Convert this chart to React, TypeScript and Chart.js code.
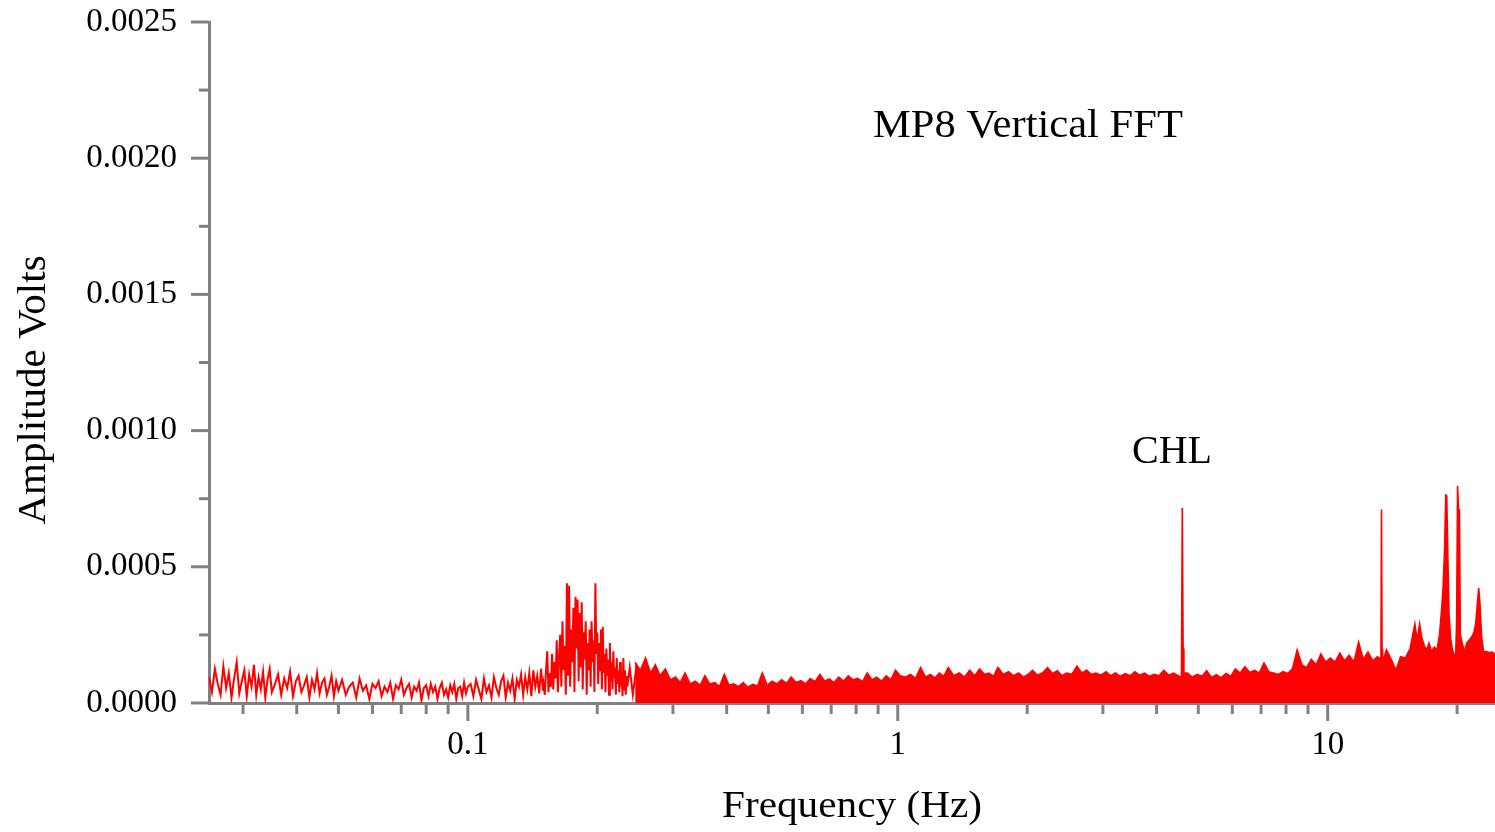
import React, { useEffect, useRef } from "react";
import { Chart, registerables } from "chart.js";

Chart.register(...registerables);

// ---------- data (frequency in Hz, amplitude in microvolts) ----------

// low-frequency trace (thin noisy line)
const lowFreqHz: number[] = [
  0.025, 0.0254, 0.0258, 0.0262, 0.0266, 0.027, 0.0274, 0.0278, 0.0282, 0.0286, 0.029, 0.0294, 0.0298, 0.0302, 0.0306, 0.031, 0.0314, 0.0318, 0.0322, 0.0326, 0.033, 0.0334, 0.0338, 0.0342, 0.0346, 0.035,
  0.0356, 0.0362, 0.0368, 0.0374, 0.038, 0.0386, 0.0392, 0.0398, 0.0404, 0.041, 0.0416, 0.0422, 0.0428, 0.0434, 0.044, 0.0446, 0.0452, 0.0458, 0.0464, 0.047, 0.0476, 0.0482, 0.0488, 0.0494, 0.05,
  0.051, 0.052, 0.053, 0.054, 0.055, 0.056, 0.057, 0.058, 0.059, 0.06,
  0.061, 0.062, 0.063, 0.064, 0.065, 0.066, 0.067, 0.068, 0.069, 0.07,
  0.071, 0.072, 0.073, 0.074, 0.075, 0.076, 0.077, 0.078, 0.079, 0.08,
  0.081, 0.082, 0.083, 0.084, 0.085, 0.086, 0.087, 0.088, 0.089, 0.09,
  0.091, 0.092, 0.093, 0.094, 0.095, 0.096, 0.097, 0.098, 0.099, 0.1,
  0.1015, 0.103, 0.1045, 0.106, 0.1075, 0.109, 0.1105, 0.112, 0.1135, 0.115,
  0.1165, 0.118, 0.1195, 0.121, 0.1225, 0.124, 0.1255, 0.127, 0.1285, 0.13,
  0.1315, 0.133, 0.1345, 0.136, 0.1375, 0.139, 0.1405, 0.142, 0.1435, 0.145,
  0.1465, 0.148, 0.1495,
  0.15, 0.151, 0.152, 0.153, 0.154, 0.155, 0.156, 0.157, 0.158, 0.159,
  0.16, 0.161, 0.162, 0.163, 0.164, 0.165, 0.166, 0.167, 0.168, 0.169,
  0.17, 0.171, 0.172, 0.173, 0.174, 0.175, 0.176, 0.177, 0.178, 0.179,
  0.18, 0.181, 0.182, 0.183, 0.184, 0.185, 0.186, 0.187, 0.188, 0.189,
  0.19, 0.191, 0.192, 0.193, 0.194, 0.195, 0.196, 0.197, 0.198, 0.199,
  0.2, 0.201, 0.202, 0.203, 0.204, 0.205, 0.206, 0.207, 0.208, 0.209,
  0.21, 0.211, 0.212, 0.213, 0.214, 0.215, 0.216, 0.217, 0.218, 0.219,
  0.22, 0.221, 0.222, 0.223, 0.224, 0.225, 0.226, 0.227, 0.228, 0.229,
  0.23, 0.231, 0.232, 0.233, 0.234, 0.235,
  0.238, 0.242, 0.246, 0.25,
];
const lowAmpUV: number[] = [
  95, 40, 125, 70, 30, 135, 55, 110, 20, 90, 150, 35, 80, 120, 25, 105, 60, 140, 30, 95, 50, 115, 20, 85, 125, 40,
  70, 105, 30, 90, 55, 115, 25, 80, 100, 40, 65, 95, 20, 85, 50, 110, 35, 75, 90, 30, 60, 100, 25, 80, 45,
  85, 30, 60, 75, 20, 90, 45, 65, 15, 70,
  55, 80, 25, 60, 40, 75, 15, 65, 50, 85,
  30, 55, 70, 20, 60, 45, 75, 10, 55, 65,
  25, 70, 40, 60, 15, 55, 75, 30, 50, 20,
  65, 40, 70, 15, 55, 60, 25, 75, 35, 60,
  70, 25, 85, 50, 15, 90, 40, 65, 20, 95,
  55, 30, 80, 100, 20, 75, 45, 90, 15, 85,
  60, 105, 30, 95, 50, 110, 25, 120, 60, 100,
  35, 125, 45,
  70, 30, 120, 190, 40, 110, 60, 180, 50, 150,
  90, 230, 40, 170, 250, 60, 300, 120, 210, 30,
  440, 100, 430, 60, 270, 150, 350, 40, 390, 200,
  380, 80, 330, 130, 370, 50, 260, 160, 300, 30,
  220, 120, 270, 60, 300, 150, 230, 40, 440, 180,
  260, 70, 220, 120, 270, 50, 280, 110, 180, 40,
  200, 100, 160, 30, 220, 80, 150, 50, 190, 90,
  130, 30, 165, 70, 120, 40, 150, 60, 110, 25,
  165, 50, 120, 30, 100, 60,
  130, 30, 120, 60,
];

// dense band (drawn filled down to zero)
const bandFreqHz: number[] = [
  0.245, 0.252, 0.259, 0.266, 0.273, 0.28, 0.288, 0.296,
  0.304, 0.312, 0.32, 0.329, 0.338, 0.347, 0.356, 0.365, 0.375, 0.385, 0.395, 0.405, 0.415, 0.426, 0.437, 0.448, 0.46, 0.472, 0.484, 0.497,
  0.51, 0.523, 0.537, 0.551, 0.565, 0.58, 0.595, 0.61, 0.626, 0.642, 0.659, 0.676, 0.693, 0.711, 0.729, 0.748, 0.767, 0.787, 0.807, 0.828, 0.849, 0.871, 0.893, 0.916, 0.94, 0.964, 0.988,
  1.013, 1.04, 1.07, 1.1, 1.13, 1.16, 1.19, 1.22, 1.25, 1.28, 1.31, 1.35, 1.39, 1.43, 1.47, 1.51, 1.55, 1.59, 1.63, 1.67,
  1.71, 1.76, 1.81, 1.86, 1.91, 1.96, 2.01, 2.06, 2.11, 2.17, 2.23, 2.29, 2.35, 2.41, 2.47, 2.54, 2.61, 2.68, 2.75, 2.82,
  2.89, 2.97, 3.05, 3.13, 3.21, 3.29, 3.38, 3.47, 3.56, 3.65, 3.75, 3.85, 3.95, 4.05, 4.16, 4.27, 4.38, 4.49,
  4.57, 4.59, 4.61, 4.63,
  4.72, 4.84, 4.97, 5.1, 5.23, 5.37, 5.51, 5.65, 5.8, 5.95, 6.1, 6.26, 6.42, 6.59, 6.76, 6.93, 7.11, 7.29, 7.48, 7.67, 7.87, 8.07, 8.28, 8.49, 8.71, 8.93, 9.16, 9.4, 9.64, 9.89,
  10.14, 10.4, 10.67, 10.94, 11.22, 11.51, 11.8, 12.1, 12.41, 12.73, 13.05, 13.3, 13.34, 13.38, 13.42, 13.7, 14.05, 14.41, 14.78, 15.16,
  15.55, 15.95, 16.15, 16.36, 16.55, 16.78, 17.0, 17.2, 17.44, 17.7, 17.95, 18.2, 18.4, 18.55, 18.7, 18.82, 18.92, 19.02, 19.15, 19.3,
  19.5, 19.7, 19.85, 19.95, 20.05, 20.15, 20.25, 20.35, 20.55, 20.8, 21.05, 21.35, 21.65, 21.9, 22.1, 22.3, 22.45, 22.6, 22.8, 23.05,
  23.35, 23.7, 24.1, 24.5,
];
const bandAmpUV: number[] = [
  150, 120, 165, 110, 140, 100, 125, 85,
  95, 75, 110, 70, 80, 65, 100, 70, 75, 60, 105, 65, 70, 60, 75, 58, 68, 62, 110, 65,
  80, 70, 85, 72, 95, 75, 82, 70, 90, 78, 105, 80, 88, 75, 95, 80, 100, 85, 90, 78, 110, 85, 95, 80, 100, 85, 120,
  100, 95, 105, 90, 130, 95, 105, 92, 110, 98, 130, 100, 110, 95, 120, 100, 125, 105, 110, 98,
  130, 105, 115, 100, 110, 95, 105, 120, 102, 110, 130, 108, 118, 100, 110, 105, 135, 110, 120, 105,
  110, 102, 115, 100, 110, 98, 108, 100, 115, 102, 110, 98, 105, 100, 120, 102, 110, 100,
  95, 716, 200, 110,
  110, 95, 105, 98, 118, 94, 104, 92, 108, 98, 125, 110, 133, 112, 120, 110, 147, 115, 110, 105, 115, 108, 125, 195, 140, 130, 160, 140, 180, 150,
  165, 150, 183, 155, 175, 150, 224, 160, 187, 155, 170, 160, 710, 200, 150, 195, 160, 121, 170, 165,
  200, 290, 231, 290, 240, 210, 195, 220, 190, 205, 195, 250, 340, 420, 560, 763, 760, 560, 330, 243,
  195, 176, 176, 300, 797, 709, 709, 250, 220, 187, 220, 231, 243, 260, 294, 367, 422, 367, 243, 187,
  190, 185, 187, 180,
];

// axis ticks
const xMajorTicks: number[] = [0.1, 1, 10];
const xMinorTicks: number[] = [
  0.03, 0.04, 0.05, 0.06, 0.07, 0.08, 0.09,
  0.2, 0.3, 0.4, 0.5, 0.6, 0.7, 0.8, 0.9,
  2, 3, 4, 5, 6, 7, 8, 9, 20,
];
const yMajorTicks: number[] = [0, 0.0005, 0.001, 0.0015, 0.002, 0.0025];
const yMinorTicks: number[] = [0.00025, 0.00075, 0.00125, 0.00175, 0.00225];

const titleText = "MP8 Vertical FFT";
const peakLabel = "CHL";
const xAxisTitle = "Frequency (Hz)";
const yAxisTitle = "Amplitude Volts";

// ---------- styles ----------
const FONT = '"Liberation Serif", "Times New Roman", Times, serif';
const RED = "#ff0000";
const AXIS = "#808080";

function toPoints(f: number[], a: number[]) {
  return f.map((x, i) => ({ x, y: a[i] / 1e6 }));
}

function drawText(
  ctx: CanvasRenderingContext2D,
  text: string,
  x: number,
  y: number,
  size: number,
  align: CanvasTextAlign,
  fitWidth?: number,
  rotate?: number
) {
  ctx.save();
  ctx.font = `${size}px ${FONT}`;
  ctx.fillStyle = "#000";
  ctx.textAlign = align;
  ctx.textBaseline = "alphabetic";
  const w = ctx.measureText(text).width;
  const sx = fitWidth ? fitWidth / w : 1;
  ctx.translate(x, y);
  if (rotate) ctx.rotate(rotate);
  ctx.scale(sx, 1);
  ctx.fillText(text, 0, 0);
  ctx.restore();
}

const decorPlugin = {
  id: "decor",
  afterDraw(chart: any) {
    const { ctx, chartArea, scales } = chart;
    const xs = scales.x;
    const ys = scales.y;
    ctx.save();
    ctx.strokeStyle = AXIS;
    ctx.lineWidth = 3;
    ctx.lineCap = "butt";
    const seg = (x1: number, y1: number, x2: number, y2: number) => {
      ctx.beginPath();
      ctx.moveTo(x1, y1);
      ctx.lineTo(x2, y2);
      ctx.stroke();
    };
    for (const v of yMajorTicks) {
      const py = ys.getPixelForValue(v);
      seg(chartArea.left - 18, py, chartArea.left, py);
    }
    for (const v of yMinorTicks) {
      const py = ys.getPixelForValue(v);
      seg(chartArea.left - 10, py, chartArea.left, py);
    }
    for (const v of xMajorTicks) {
      const px = xs.getPixelForValue(v);
      seg(px, chartArea.bottom, px, chartArea.bottom + 18);
    }
    for (const v of xMinorTicks) {
      const px = xs.getPixelForValue(v);
      seg(px, chartArea.bottom, px, chartArea.bottom + 11);
    }
    ctx.restore();

    drawText(ctx, titleText, 873, 137, 40, "left", 310);
    drawText(ctx, peakLabel, 1132, 463, 40, "left");
    drawText(ctx, xAxisTitle, (chartArea.left + chartArea.right) / 2, 817, 37, "center", 260);
    drawText(ctx, yAxisTitle, 45, 390, 41, "center", undefined, -Math.PI / 2);
  },
};

export default function App() {
  const ref = useRef<HTMLCanvasElement | null>(null);

  useEffect(() => {
    document.body.style.margin = "0";
    const canvas = ref.current;
    if (!canvas) return;
    const chart = new Chart(canvas, {
      type: "line",
      data: {
        datasets: [
          {
            data: toPoints(lowFreqHz, lowAmpUV),
            borderColor: RED,
            borderWidth: 2,
            pointRadius: 0,
            fill: false,
            tension: 0,
          },
          {
            data: toPoints(bandFreqHz, bandAmpUV),
            borderColor: RED,
            backgroundColor: RED,
            borderWidth: 1.6,
            pointRadius: 0,
            fill: "origin",
            tension: 0,
          },
        ],
      },
      options: {
        responsive: false,
        animation: false,
        devicePixelRatio: 1,
        events: [],
        layout: { padding: { top: 22, left: 0, right: 0, bottom: 0 } },
        plugins: {
          legend: { display: false },
          tooltip: { enabled: false },
          title: { display: false },
        },
        scales: {
          x: {
            type: "logarithmic",
            position: "bottom",
            min: 0.025,
            max: 24.5,
            grid: { display: false, drawTicks: false },
            border: { display: true, color: AXIS, width: 3 },
            ticks: {
              font: { family: FONT, size: 33 },
              color: "#000",
              padding: 23,
              maxRotation: 0,
              autoSkip: false,
              callback: (v: any) => String(v),
            },
            afterBuildTicks: (s: any) => {
              s.ticks = xMajorTicks.map((value) => ({ value }));
            },
            afterFit: (s: any) => {
              s.height = 129;
              s.paddingLeft = 0;
              s.paddingRight = 0;
            },
          },
          y: {
            type: "linear",
            min: 0,
            max: 0.0025,
            grid: { display: false, drawTicks: false },
            border: { display: true, color: AXIS, width: 3 },
            ticks: {
              stepSize: 0.0005,
              font: { family: FONT, size: 33 },
              color: "#000",
              padding: 32,
              callback: (v: any) => Number(v).toFixed(4),
            },
            afterFit: (s: any) => {
              s.width = 209;
              s.paddingTop = 0;
              s.paddingBottom = 0;
            },
          },
        },
      } as any,
      plugins: [decorPlugin],
    });
    return () => chart.destroy();
  }, []);

  return (
    <canvas
      ref={ref}
      width={1495}
      height={832}
      style={{ display: "block", width: 1495, height: 832 }}
    />
  );
}
